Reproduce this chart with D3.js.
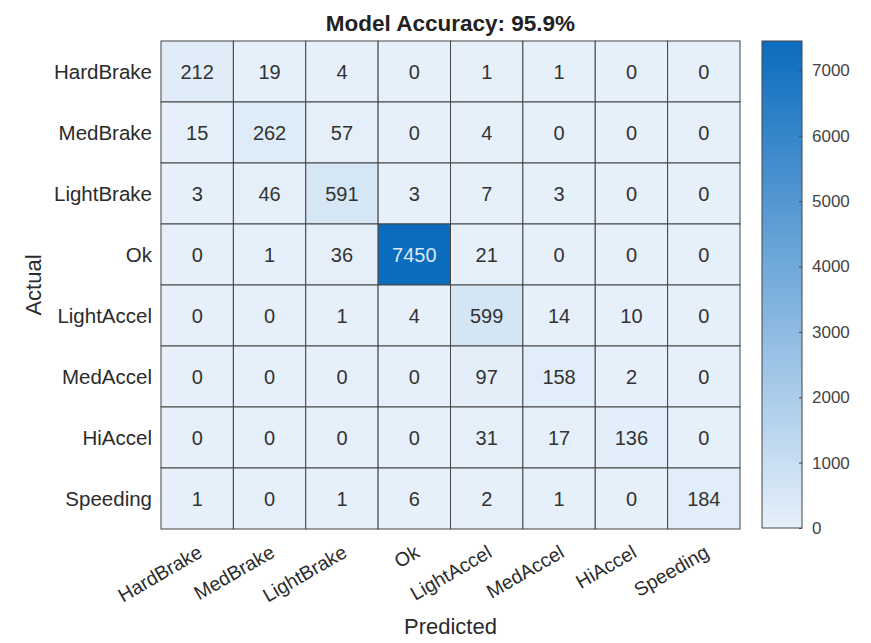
<!DOCTYPE html>
<html>
<head>
<meta charset="utf-8">
<script src="https://cdn.jsdelivr.net/npm/d3@7"></script>
<style>
  body { margin: 0; background: #fff; }
  svg text { font-family: "Liberation Sans", Arial, Helvetica, sans-serif; }
</style>
</head>
<body>
<svg id="chart" width="871" height="643"></svg>
<script>
// class names, same order on both axes
var classes = ["HardBrake", "MedBrake", "LightBrake", "Ok", "LightAccel", "MedAccel", "HiAccel", "Speeding"];
// rows = actual, columns = predicted
var counts = [
  [212, 19, 4, 0, 1, 1, 0, 0],
  [15, 262, 57, 0, 4, 0, 0, 0],
  [3, 46, 591, 3, 7, 3, 0, 0],
  [0, 1, 36, 7450, 21, 0, 0, 0],
  [0, 0, 1, 4, 599, 14, 10, 0],
  [0, 0, 0, 0, 97, 158, 2, 0],
  [0, 0, 0, 0, 31, 17, 136, 0],
  [1, 0, 1, 6, 2, 1, 0, 184]
];
var colorTicks = [0, 1000, 2000, 3000, 4000, 5000, 6000, 7000];
var titleText = "Model Accuracy: 95.9%";

var svg = d3.select("#chart");
var grid = { left: 161, top: 41, right: 740, bottom: 529 };
var bar = { left: 762, right: 802 };
var textColor = "#2b2b2b";

var maxVal = d3.max(counts.flat());
var color = d3.scaleLinear().domain([0, maxVal]).range(["#e6f0fa", "#0b6cbe"]).interpolate(d3.interpolateRgb);

var x = d3.scaleBand().domain(classes).range([grid.left, grid.right]);
var y = d3.scaleBand().domain(classes).range([grid.top, grid.bottom]);

// cells
var cells = [];
counts.forEach((row, i) => row.forEach((v, j) => cells.push({ actual: classes[i], pred: classes[j], v: v })));

var g = svg.append("g");
g.selectAll("rect.cell").data(cells).join("rect").attr("class", "cell")
  .attr("x", d => x(d.pred)).attr("y", d => y(d.actual))
  .attr("width", x.bandwidth()).attr("height", y.bandwidth())
  .attr("fill", d => color(d.v)).attr("stroke", "#454545").attr("stroke-width", 1);

g.selectAll("text.val").data(cells).join("text").attr("class", "val")
  .attr("x", d => x(d.pred) + x.bandwidth() / 2).attr("y", d => y(d.actual) + y.bandwidth() / 2)
  .attr("text-anchor", "middle").attr("dy", "0.36em")
  .attr("font-size", 20)
  .attr("fill", d => d.v > maxVal / 2 ? "#dbe9f7" : "#333")
  .text(d => d.v);

// row labels
svg.append("g").selectAll("text").data(classes).join("text")
  .attr("x", grid.left - 9).attr("y", d => y(d) + y.bandwidth() / 2)
  .attr("dy", "0.36em").attr("text-anchor", "end")
  .attr("font-size", 20.5).attr("fill", textColor).text(d => d);

// column labels, rotated
svg.append("g").selectAll("text").data(classes).join("text")
  .attr("transform", d => "translate(" + (x(d) + x.bandwidth() / 2 + 3) + "," + (grid.bottom + 21) + ") rotate(-30)")
  .attr("text-anchor", "end").attr("dy", "0.36em")
  .attr("font-size", 19.5).attr("fill", textColor).text(d => d);

// title and axis titles
svg.append("text").attr("x", (grid.left + grid.right) / 2).attr("y", 31)
  .attr("text-anchor", "middle").attr("font-size", 22.5).attr("font-weight", "bold")
  .attr("fill", "#222").text(titleText);
svg.append("text").attr("x", (grid.left + grid.right) / 2).attr("y", 634)
  .attr("text-anchor", "middle").attr("font-size", 22).attr("fill", textColor).text("Predicted");
svg.append("text").attr("transform", "translate(41," + (grid.top + grid.bottom) / 2 + ") rotate(-90)")
  .attr("text-anchor", "middle").attr("font-size", 22).attr("fill", textColor).text("Actual");

// colorbar
var cy = d3.scaleLinear().domain([0, maxVal]).range([grid.bottom - 1, grid.top]);
var defs = svg.append("defs");
var grad = defs.append("linearGradient").attr("id", "cbar").attr("x1", 0).attr("y1", 1).attr("x2", 0).attr("y2", 0);
grad.selectAll("stop").data([0, maxVal]).join("stop")
  .attr("offset", d => d / maxVal).attr("stop-color", d => color(d));
svg.append("rect").attr("x", bar.left).attr("y", cy(maxVal))
  .attr("width", bar.right - bar.left).attr("height", cy(0) - cy(maxVal))
  .attr("fill", "url(#cbar)").attr("stroke", "#454545").attr("stroke-width", 1);

var cAxis = svg.append("g").attr("transform", "translate(" + bar.right + ",0)")
  .call(d3.axisRight(cy).tickValues(colorTicks).tickSize(-3).tickPadding(10).tickFormat(d3.format("d")));
cAxis.select(".domain").remove();
cAxis.selectAll(".tick line").attr("stroke", "#454545");
cAxis.selectAll(".tick text").attr("font-size", 17).attr("fill", "#444")
  .style("font-family", "'Liberation Sans', Arial, sans-serif");
</script>
</body>
</html>
